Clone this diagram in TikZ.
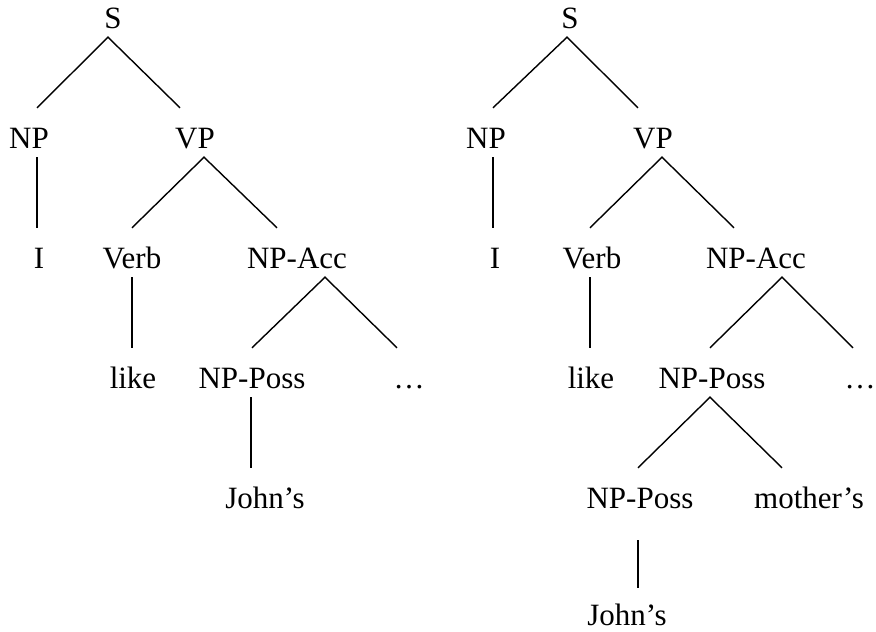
\documentclass[tikz,border=0pt]{standalone}
\usepackage{fontspec}
\setmainfont{Liberation Serif}

\begin{document}
\begin{tikzpicture}[x=1pt,y=-1pt,
  word/.style={anchor=base,inner sep=0pt,text height=40pt,text depth=9pt,
    font=\fontsize{31}{36}\selectfont},
  branch/.style={line width=1.4pt,black}]
\useasboundingbox (0,0) rectangle (876,632);

% Tree for "I like John's ..."
\node[word] (S) at (113,28) {S};
\node[word] (NP) at (29,148) {NP};
\node[word] (VP) at (195,148) {VP};
\node[word] (I) at (39,268) {I};
\node[word] (Verb) at (132,268) {Verb};
\node[word] (NPAcc) at (297,268) {NP-Acc};
\node[word] (like) at (133,388) {like};
\node[word] (NPPoss) at (252,388) {NP-Poss};
\node[word] (dots) at (409,388) {…};
\node[word] (Johns) at (265,508) {John's};

\draw[branch] ([xshift=8pt]NP.north) -- ([xshift=-5pt]S.south) -- ([xshift=-15pt]VP.north);
\draw[branch] ([xshift=8pt]NP.south) -- ([xshift=-2pt]I.north);
\draw[branch] (Verb.north) -- ([xshift=9pt]VP.south) -- ([xshift=-20pt]NPAcc.north);
\draw[branch] (Verb.south) -- ([xshift=-1pt]like.north);
\draw[branch] (NPPoss.north) -- ([xshift=28pt]NPAcc.south) -- ([xshift=-12pt]dots.north);
\draw[branch] ([xshift=-1pt]NPPoss.south) -- ([xshift=-14pt]Johns.north);

% Tree for "I like John's mother's ..."
\node[word] (SB) at (570,28) {S};
\node[word] (NPB) at (486,148) {NP};
\node[word] (VPB) at (653,148) {VP};
\node[word] (IB) at (495,268) {I};
\node[word] (VerbB) at (592,268) {Verb};
\node[word] (NPAccB) at (756,268) {NP-Acc};
\node[word] (likeB) at (591,388) {like};
\node[word] (NPPossB) at (712,388) {NP-Poss};
\node[word] (dotsB) at (860,388) {…};
\node[word] (NPPossC) at (640,508) {NP-Poss};
\node[word] (mothersB) at (809,508) {mother's};
\node[word] (JohnsB) at (627,625) {John's};

\draw[branch] ([xshift=7pt]NPB.north) -- ([xshift=-3pt]SB.south) -- ([xshift=-15pt]VPB.north);
\draw[branch] ([xshift=7pt]NPB.south) -- ([xshift=-2pt]IB.north);
\draw[branch] ([xshift=-2pt]VerbB.north) -- ([xshift=9pt]VPB.south) -- ([xshift=-22pt]NPAccB.north);
\draw[branch] ([xshift=-2pt]VerbB.south) -- ([xshift=-1pt]likeB.north);
\draw[branch] ([xshift=-2pt]NPPossB.north) -- ([xshift=26pt]NPAccB.south) -- ([xshift=-7pt]dotsB.north);
\draw[branch] ([xshift=-2pt]NPPossC.north) -- ([xshift=-2pt]NPPossB.south) -- ([xshift=-27pt]mothersB.north);
\draw[branch] ([xshift=-2pt,yshift=-23pt]NPPossC.south) -- ([xshift=11pt,yshift=-3pt]JohnsB.north);

\end{tikzpicture}
\end{document}
